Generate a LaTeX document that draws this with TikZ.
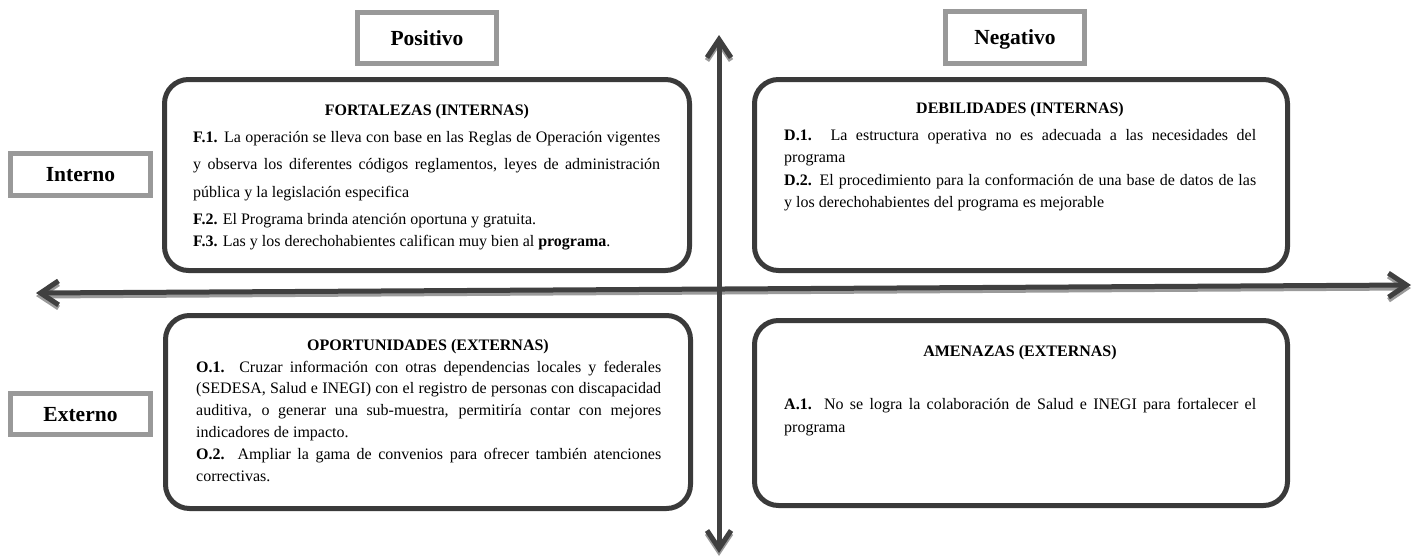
\documentclass[tikz,border=0pt]{standalone}
\usepackage{fontspec}
\setmainfont{Liberation Serif}
\usepackage{tikz}
\usetikzlibrary{%
	arrows.meta,%
	calc%
}
\definecolor{axisgray}{HTML}{404040}
\definecolor{shadowgray}{HTML}{9A9A9A}
\definecolor{framegray}{HTML}{999999}
\definecolor{panelgray}{HTML}{3A3A3A}
\hyphenpenalty=10000
\exhyphenpenalty=10000

\tikzset{
	axis/.style={line width=5pt, {Straight Barb[length=18pt,width=24pt]}-{Straight Barb[length=18pt,width=24pt]}},
	labelbox/.style={draw=framegray, line width=5pt, fill=white, inner sep=0pt, text height=14.2pt, text depth=0pt, font=\bfseries\fontsize{21.5}{24}\selectfont},
	panel/.style={draw=panelgray, line width=5pt, rounded corners=24pt, inner sep=0pt},
	paneltitle/.style={anchor=base, inner sep=0pt, font=\bfseries\fontsize{16}{18}\selectfont},
	paneltext/.style={anchor=base west, align=justify, inner sep=0pt}
}

\begin{document}
\begin{tikzpicture}[x=1pt,y=-1pt]
	\useasboundingbox (0,0) rectangle (1414,558);

	%Axis ends
	\coordinate (top) at (719,35);
	\coordinate (bottom) at (719,553);
	\coordinate (left) at (36,293);
	\coordinate (right) at (1411,285);

	% Axes with their shadows
	\foreach \from/\to in {left/right,top/bottom}
	{
		\draw[axis, shadowgray, transform canvas={yshift=-3pt}] (\from) -- (\to);
		\draw[axis, axisgray] (\from) -- (\to);
	}

	% Side labels
	\node[labelbox, minimum width=139pt, minimum height=51pt] (pos) at (427,38) {Positivo};
	\node[labelbox, minimum width=139pt, minimum height=52pt] (neg) at (1015,37.5) {Negativo};
	\node[labelbox, minimum width=140pt, minimum height=42pt] (int) at (80.5,174.5) {Interno};
	\node[labelbox, minimum width=140pt, minimum height=41pt] (ext) at (80.5,414) {Externo};

	% Panels
	\node[panel, minimum width=525pt, minimum height=191pt] (fort) at (427,175) {};
	\node[panel, minimum width=533pt, minimum height=191pt] (deb) at (1021,175) {};
	\node[panel, minimum width=525pt, minimum height=193pt] (opp) at (428,412) {};
	\node[panel, minimum width=533pt, minimum height=185pt] (ame) at (1021,413) {};

	% Fortalezas
	\node[paneltitle] (fortT) at (427,115) {FORTALEZAS (INTERNAS)};
	\node[paneltext, text width=467pt, font=\fontsize{16}{27.5}\selectfont] (f1) at (193,142) {\textbf{F.1.} La operación se lleva con base en las Reglas de Operación vigentes\linebreak y observa los diferentes códigos reglamentos, leyes de administración\linebreak pública y la legislación especifica};
	\node[paneltext, text width=467pt, font=\fontsize{16}{22}\selectfont] (f2) at (193,224) {\textbf{F.2.} El Programa brinda atención oportuna y gratuita.\par \textbf{F.3.} Las y los derechohabientes califican muy bien al \textbf{programa}.};

	% Debilidades
	\node[paneltitle] (debT) at (1020,113) {DEBILIDADES (INTERNAS)};
	\node[paneltext, text width=472pt, font=\fontsize{16}{22.5}\selectfont] (d1) at (784,140) {\textbf{D.1.} La estructura operativa no es adecuada a las necesidades del\linebreak programa\par \textbf{D.2.} El procedimiento para la conformación de una base de datos de las\linebreak y los derechohabientes del programa es mejorable};

	% Oportunidades
	\node[paneltitle] (oppT) at (428,350) {OPORTUNIDADES (EXTERNAS)};
	\node[paneltext, text width=465pt, font=\fontsize{16}{21.8}\selectfont] (o1) at (196,372) {\textbf{O.1.} Cruzar información con otras dependencias locales y federales\linebreak (SEDESA, Salud e INEGI) con el registro de personas con discapacidad\linebreak auditiva, o generar una sub-muestra, permitiría contar con mejores\linebreak indicadores de impacto.\par \textbf{O.2.} Ampliar la gama de convenios para ofrecer también atenciones\linebreak correctivas.};

	% Amenazas
	\node[paneltitle] (ameT) at (1020,356) {AMENAZAS (EXTERNAS)};
	\node[paneltext, text width=472pt, font=\fontsize{16}{23}\selectfont] (a1) at (784,409) {\textbf{A.1.} No se logra la colaboración de Salud e INEGI para fortalecer el\linebreak programa};
\end{tikzpicture}
\end{document}
